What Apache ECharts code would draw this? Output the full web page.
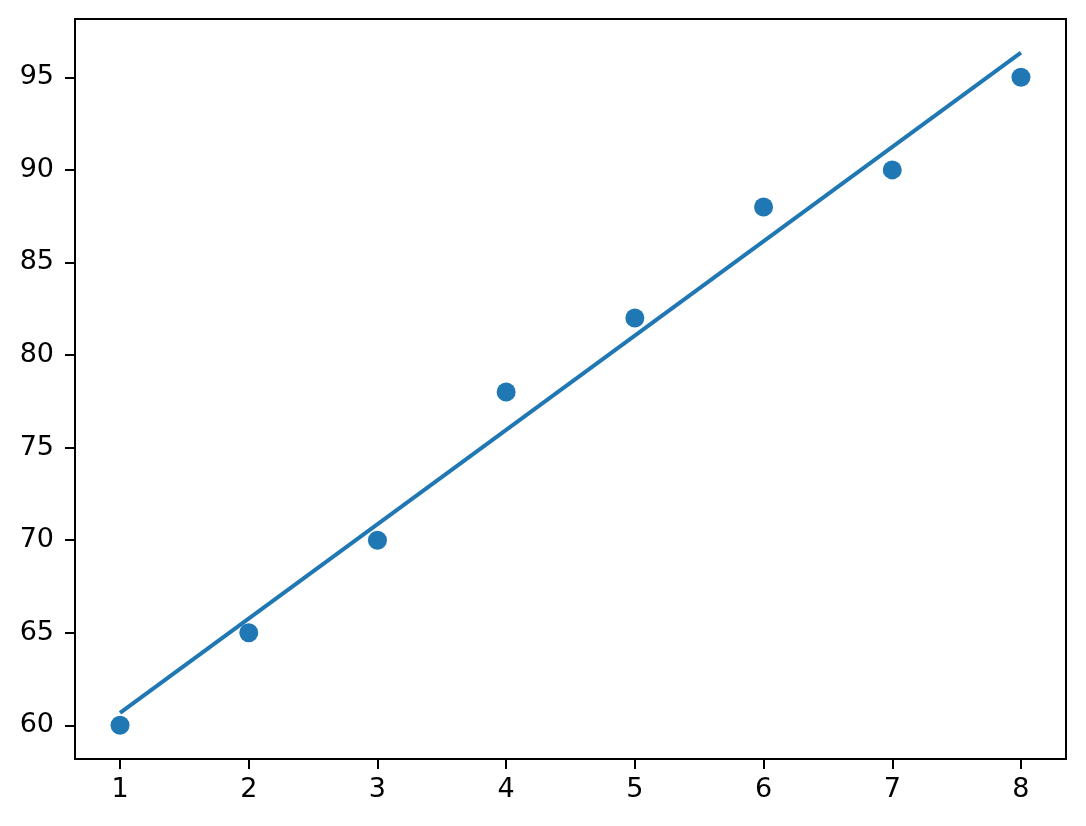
<!DOCTYPE html>
<html>
<head>
<meta charset="utf-8">
<script src="https://cdn.jsdelivr.net/npm/echarts@6/dist/echarts.min.js"></script>
<style>html,body{margin:0;padding:0;background:#fff;}#chart{width:1086px;height:826px;}</style>
</head>
<body>
<div id="chart"></div>
<script>
var xValues = [1, 2, 3, 4, 5, 6, 7, 8];
var yValues = [60, 65, 70, 78, 82, 88, 90, 95];
var fitX = [1, 8];
var fitY = [60.67, 96.33];
var xTicks = [1, 2, 3, 4, 5, 6, 7, 8];
var yTicks = [60, 65, 70, 75, 80, 85, 90, 95];

var scatterData = xValues.map(function (x, i) { return [x, yValues[i]]; });
var lineData = fitX.map(function (x, i) { return [x, fitY[i]]; });

var chart = echarts.init(document.getElementById('chart'), null, {renderer: 'canvas'});
var font = 'DejaVu Sans';
chart.setOption({
  animation: false,
  backgroundColor: '#ffffff',
  grid: {left: 75, right: 20, top: 19, bottom: 67, show: true, borderColor: '#000', borderWidth: 2, backgroundColor: 'transparent'},
  xAxis: {
    type: 'value', min: 0.65, max: 8.35,
    splitLine: {show: false},
    axisLine: {show: true, onZero: false, lineStyle: {color: '#000', width: 2}},
    axisTick: {show: true, length: 10, lineStyle: {color: '#000', width: 2}, customValues: xTicks},
    axisLabel: {customValues: xTicks, color: '#000', fontFamily: font, fontSize: 27, margin: 17}
  },
  yAxis: {
    type: 'value', min: 58.18, max: 98.15,
    splitLine: {show: false},
    axisLine: {show: true, onZero: false, lineStyle: {color: '#000', width: 2}},
    axisTick: {show: true, length: 10, lineStyle: {color: '#000', width: 2}, customValues: yTicks},
    axisLabel: {customValues: yTicks, color: '#000', fontFamily: font, fontSize: 27, margin: 21}
  },
  series: [
    {type: 'scatter', data: scatterData, symbol: 'circle', symbolSize: 19, itemStyle: {color: '#1f77b4', opacity: 1}, z: 2},
    {type: 'line', data: lineData, showSymbol: false, symbol: 'none', lineStyle: {color: '#1f77b4', width: 4}, z: 3}
  ]
});
</script>
</body>
</html>
